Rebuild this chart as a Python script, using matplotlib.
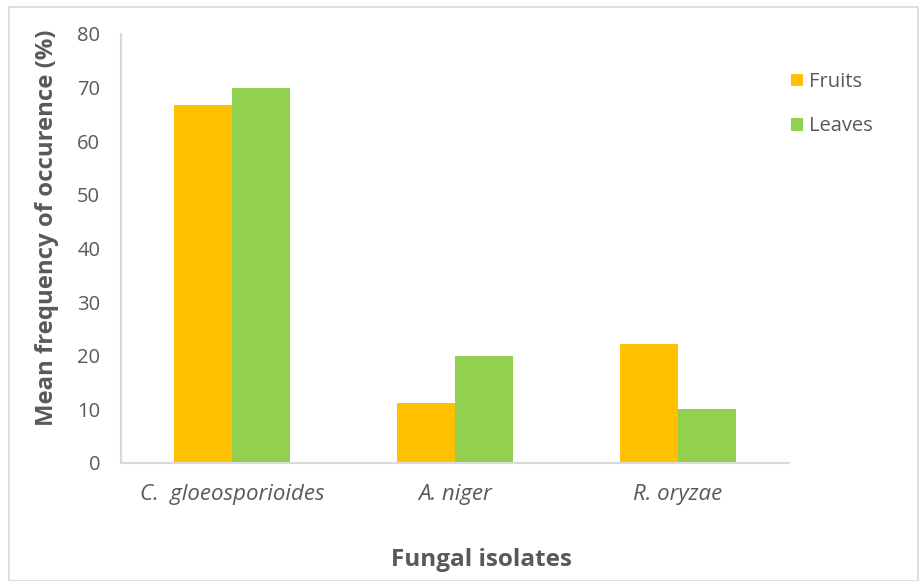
import numpy as np
import matplotlib.pyplot as plt
from matplotlib.patches import Rectangle

isolates = ['C.  gloeosporioides', 'A. niger', 'R. oryzae']
fruits = [66.7, 11.1, 22.2]
leaves = [70.0, 20.0, 10.0]

plt.rcParams['font.family'] = ['Open Sans', 'DejaVu Sans']

fig = plt.figure(figsize=(9.19, 5.81), dpi=100)
ax = fig.add_axes([121 / 919, 1 - 463 / 581, 668 / 919, 429 / 581])

x = np.arange(len(isolates))
w = 0.26
ax.bar(x - w / 2, fruits, width=w, color='#ffc000', label='Fruits')
ax.bar(x + w / 2, leaves, width=w, color='#92d050', label='Leaves')

ax.set_xlim(-0.5, 2.5)
ax.set_ylim(0, 80)
ax.set_yticks(range(0, 81, 10))
ax.set_xticks(x)
ax.set_xticklabels(isolates, style='italic', fontsize=16, color='#595959')
ax.tick_params(axis='y', labelsize=14.5, labelcolor='#595959', length=0, pad=15)
ax.tick_params(axis='x', length=0, pad=15)

for s in ['top', 'right']:
    ax.spines[s].set_visible(False)
for s in ['left', 'bottom']:
    ax.spines[s].set_color('#d9d9d9')
    ax.spines[s].set_linewidth(1.5)

fig.text(47 / 919, 1 - 228 / 581, 'Mean frequency of occurence (%)', fontsize=17.2,
         fontweight='bold', color='#595959', rotation=90, ha='center', va='center')
fig.text(481 / 919, 1 - 560 / 581, 'Fungal isolates', fontsize=17.5, fontweight='bold',
         color='#595959', ha='center', va='center')

ax.legend(loc='upper left', bbox_to_anchor=(1.003, 0.911), frameon=False, fontsize=14.5,
          borderpad=0, borderaxespad=0,
          handlelength=0.6, handleheight=0.6, handletextpad=0.3, labelspacing=1.2,
          labelcolor='#595959')

fig.patches.append(Rectangle((9 / 919, 0), 1 - 9 / 919 - 1 / 919, 1 - 7 / 581,
                             transform=fig.transFigure, fill=False,
                             edgecolor='#d9d9d9', linewidth=1.2))

fig.savefig('out.png', dpi=100)
